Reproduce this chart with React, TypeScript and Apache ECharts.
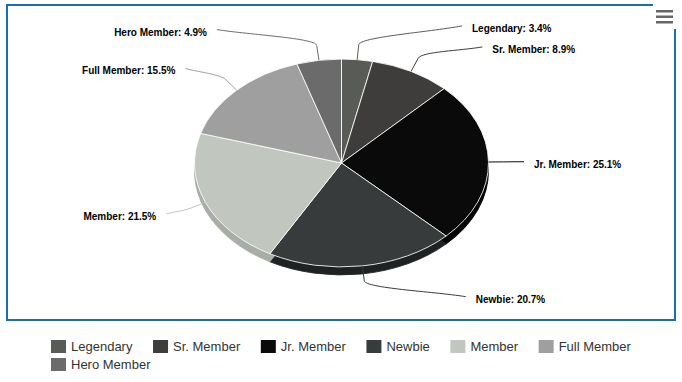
import React, { useEffect, useRef } from 'react';
import * as echarts from 'echarts';

// ---------- data ----------
const categories = ['Legendary', 'Sr. Member', 'Jr. Member', 'Newbie', 'Member', 'Full Member', 'Hero Member'];
const shares = [3.4, 8.9, 25.1, 20.7, 21.5, 15.5, 4.9];
const sliceColors = ['#595b57', '#3f3d3b', '#0a0a0a', '#383b3c', '#c1c6bf', '#9f9f9f', '#6b6b6b'];
const legendRow1 = categories.slice(0, 6);
const legendRow2 = categories.slice(6);

// ---------- layout / style ----------
const CX = 341.5;
const CY = 163;
const RX = 147;
const RY = 104;
const DEPTH = 8;
const LABEL_DIST = 31;
const LABEL_R = 182.5;
const BREAK = 15;
const LABEL_GAP_MIN = 21;
const LABEL_FONT = '"Liberation Sans", Arial, Helvetica, sans-serif';
const MENU_BARS = [10, 15.5, 21];

function darken(hex: string, amt: number): string {
  const n = parseInt(hex.slice(1), 16);
  const r = Math.max(0, ((n >> 16) & 255) - amt);
  const g = Math.max(0, ((n >> 8) & 255) - amt);
  const b = Math.max(0, (n & 255) - amt);
  return '#' + [r, g, b].map((c) => c.toString(16).padStart(2, '0')).join('');
}

type SliceLayout = {
  i: number; a0: number; a1: number; mid: number; right: boolean; y: number; lx: number; pct: number;
};

function computeLayout(): SliceLayout[] {
  const total = shares.reduce((a, b) => a + b, 0);
  let acc = 0;
  const items: SliceLayout[] = shares.map((v, i) => {
    const a0 = (acc / total) * Math.PI * 2;
    acc += v;
    const a1 = (acc / total) * Math.PI * 2;
    const mid = (a0 + a1) / 2;
    return {
      i, a0, a1, mid,
      right: mid < Math.PI,
      y: CY - (RY + LABEL_DIST) * Math.cos(mid),
      lx: 0,
      pct: (v / total) * 100,
    };
  });
  for (const side of [true, false]) {
    const arr = items.filter((s) => s.right === side).sort((a, b) => a.y - b.y);
    for (let iter = 0; iter < 10; iter++) {
      for (let k = 1; k < arr.length; k++) {
        const diff = arr[k].y - arr[k - 1].y;
        if (diff < LABEL_GAP_MIN) {
          const push = (LABEL_GAP_MIN - diff) / 2;
          arr[k - 1].y -= push;
          arr[k].y += push;
        }
      }
    }
  }
  items.forEach((s) => {
    const dy = s.y - CY;
    const dx = Math.sqrt(Math.max(0, LABEL_R * LABEL_R - dy * dy));
    s.lx = CX + (s.right ? dx : -dx);
  });
  return items;
}

export default function App() {
  const ref = useRef<HTMLDivElement>(null);

  useEffect(() => {
    if (!ref.current) return;
    const chart = echarts.init(ref.current, undefined, { renderer: 'svg' });
    const layout = computeLayout();

    const legendCommon = {
      orient: 'horizontal' as const,
      icon: 'rect',
      itemWidth: 15,
      itemHeight: 13,
      itemGap: 20.6,
      padding: 0,
      selectedMode: false,
      textStyle: { fontSize: 13, color: '#333333', fontFamily: LABEL_FONT },
    };

    const graphics: any[] = [
      {
        type: 'rect', z: 10, silent: true,
        shape: { x: 7, y: 5, width: 668, height: 315 },
        style: { fill: 'rgba(0,0,0,0)', stroke: '#1b6db3', lineWidth: 2 },
      },
      {
        type: 'rect', z: 11, silent: true,
        shape: { x: 653, y: 2, width: 26, height: 27 },
        style: { fill: '#ffffff' },
      },
    ];
    MENU_BARS.forEach((yy) => {
      graphics.push({
        type: 'rect', z: 12, silent: true,
        shape: { x: 656, y: yy, width: 17, height: 2.5 },
        style: { fill: '#666666' },
      });
    });

    chart.setOption({
      animation: false,
      backgroundColor: '#ffffff',
      color: sliceColors,
      legend: [
        { ...legendCommon, data: legendRow1, left: 51, top: 340 },
        { ...legendCommon, data: legendRow2, left: 51, top: 358 },
      ],
      graphic: { elements: graphics },
      series: [
        {
          type: 'pie',
          name: 'legendSource',
          radius: [0, 0],
          center: [-50, -50],
          silent: true,
          label: { show: false },
          labelLine: { show: false },
          emphasis: { disabled: true },
          data: categories.map((n, i) => ({ name: n, value: shares[i], itemStyle: { color: sliceColors[i] } })),
        },
        {
          type: 'custom',
          name: 'slices',
          coordinateSystem: 'none',
          silent: true,
          data: shares.map((v, i) => [i, v]),
          renderItem: (params: any) => {
            const s = layout[params.dataIndex];
            const color = sliceColors[s.i];
            const side = darken(color, 25);
            const start = s.a0 - Math.PI / 2;
            const end = s.a1 - Math.PI / 2;
            const sn = Math.sin(s.mid);
            const cs = Math.cos(s.mid);
            const T = [CX + RX * sn, CY - RY * cs];
            const B = [CX + (RX + BREAK) * sn, CY - (RY + BREAK) * cs];
            const L = [s.lx, s.y];
            const cp1 = [L[0] + (B[0] - L[0]) / 3, L[1] + (B[1] - L[1]) / 3];
            const cp2 = [B[0] + (B[0] - T[0]) * 0.5, B[1] + (B[1] - T[1]) * 0.5];
            const sectorShape = { cx: 0, cy: 0, r: RX, r0: 0, startAngle: start, endAngle: end, clockwise: true };
            return {
              type: 'group',
              children: [
                {
                  type: 'sector', x: CX, y: CY + DEPTH, scaleY: RY / RX, z2: 1,
                  shape: sectorShape,
                  style: { fill: side, stroke: side, lineWidth: 1, strokeNoScale: true },
                },
                {
                  type: 'sector', x: CX, y: CY, scaleY: RY / RX, z2: 10,
                  shape: sectorShape,
                  style: { fill: color, stroke: '#ffffff', lineWidth: 1, strokeNoScale: true },
                },
                {
                  type: 'bezierCurve', z2: 20,
                  shape: { x1: L[0], y1: L[1], x2: B[0], y2: B[1], cpx1: cp1[0], cpy1: cp1[1], cpx2: cp2[0], cpy2: cp2[1] },
                  style: { stroke: color, fill: 'none', lineWidth: 1 },
                },
                {
                  type: 'line', z2: 20,
                  shape: { x1: B[0], y1: B[1], x2: T[0], y2: T[1] },
                  style: { stroke: color, fill: 'none', lineWidth: 1 },
                },
                {
                  type: 'text', z2: 30,
                  style: {
                    text: `${categories[s.i]}: ${s.pct.toFixed(1)}%`,
                    x: s.lx + (s.right ? 10 : -10),
                    y: s.y + 2.5,
                    align: s.right ? 'left' : 'right',
                    verticalAlign: 'middle',
                    fill: '#000000',
                    fontSize: 10,
                    fontWeight: 'bold',
                    fontFamily: LABEL_FONT,
                  },
                },
              ],
            };
          },
        },
      ],
    });

    return () => chart.dispose();
  }, []);

  return (
    <div
      ref={ref}
      style={{ position: 'absolute', left: 0, top: 0, width: 682, height: 382 }}
    />
  );
}
